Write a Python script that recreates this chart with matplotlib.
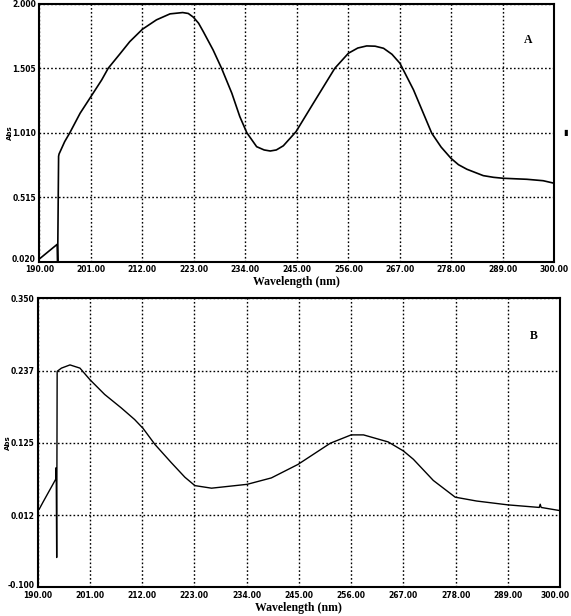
import numpy as np
import matplotlib
matplotlib.use("Agg")
import matplotlib.pyplot as plt
from matplotlib.transforms import ScaledTranslation

# spectrum A
wl_a = [190.1, 193.8, 193.9, 194.1, 194.2, 195.4, 196.5, 198.7, 201.0, 203.3,
        204.7, 207.2, 209.3, 212.0, 215.0, 217.9, 220.6, 221.8, 222.9, 224.0,
        225.0, 227.1, 228.9, 231.1, 232.8, 234.3, 236.4, 238.0, 239.3, 240.6,
        242.1, 244.8, 248.5, 253.1, 256.0, 258.0, 259.9, 261.7, 263.5, 265.3,
        267.0, 269.9, 273.8, 275.8, 277.9, 279.5, 281.3, 284.8, 287.0, 289.0,
        291.5, 294.1, 297.6, 300.0]
abs_a = [0.045, 0.154, 0.020, 0.830, 0.847, 0.942, 1.010, 1.160, 1.287, 1.415,
         1.505, 1.615, 1.709, 1.804, 1.876, 1.922, 1.932, 1.925, 1.896, 1.850,
         1.786, 1.645, 1.505, 1.313, 1.134, 1.010, 0.903, 0.878, 0.870, 0.878,
         0.910, 1.018, 1.236, 1.505, 1.620, 1.660, 1.676, 1.674, 1.658, 1.612,
         1.543, 1.339, 1.006, 0.900, 0.814, 0.765, 0.730, 0.681, 0.668, 0.661,
         0.657, 0.653, 0.642, 0.622]

# spectrum B
wl_b = [190.3, 191.1, 193.8, 193.9, 194.0, 194.1, 195.0, 196.8, 198.9, 201.0,
        204.1, 207.6, 210.4, 212.2, 214.7, 218.1, 221.0, 223.1, 226.6, 234.1,
        239.2, 244.8, 251.6, 256.0, 258.6, 263.8, 267.0, 269.1, 273.3, 277.9,
        282.4, 289.0, 295.6, 295.8, 296.0, 300.0]
abs_b = [0.021, 0.032, 0.068, 0.086, -0.054, 0.236, 0.241, 0.246, 0.241, 0.223,
         0.200, 0.179, 0.161, 0.147, 0.122, 0.094, 0.071, 0.058, 0.054, 0.060,
         0.070, 0.091, 0.124, 0.137, 0.137, 0.126, 0.112, 0.099, 0.066, 0.040,
         0.034, 0.028, 0.024, 0.029, 0.024, 0.019]

xticks = [190, 201, 212, 223, 234, 245, 256, 267, 278, 289, 300]
yticks_a = [0.020, 0.515, 1.010, 1.505, 2.000]
yticks_b = [-0.100, 0.012, 0.125, 0.237, 0.350]

fig = plt.figure(figsize=(5.71, 6.16), dpi=100)
ax_a = fig.add_axes([0.069, 0.575, 0.902, 0.419])
ax_b = fig.add_axes([0.066, 0.047, 0.915, 0.469])


def style(ax, yticks, letter, lx, ly):
    ax.set_xlim(190, 300)
    ax.set_ylim(yticks[0], yticks[-1])
    ax.set_xticks(xticks)
    ax.set_xticklabels(["%.2f" % t for t in xticks])
    ax.set_yticks(yticks)
    ax.set_yticklabels(["%.3f" % t for t in yticks])
    ax.tick_params(length=0, labelsize=5.5, pad=2.5)
    for lab in ax.get_xticklabels() + ax.get_yticklabels():
        lab.set_fontweight("bold")
    # lowest y label sits a little higher, like the instrument print
    low = ax.get_yticklabels()[0]
    low.set_transform(low.get_transform() + ScaledTranslation(0, 3 / 100, fig.dpi_scale_trans))
    ax.grid(True, color="black", linestyle=(0, (1.2, 1.6)), linewidth=1.0)
    for sp in ax.spines.values():
        sp.set_linewidth(1.5)
    ax.set_xlabel("Wavelength (nm)", family="Liberation Serif", fontweight="bold",
                  fontsize=8.5, labelpad=1.5)
    ax.set_ylabel("Abs", fontsize=5, fontweight="bold")
    ax.yaxis.set_label_coords(-0.052, 0.5)
    ax.text(lx, ly, letter, transform=ax.transAxes, family="Liberation Serif",
            fontweight="bold", fontsize=8.5, ha="center", va="center")


ax_a.plot(wl_a, abs_a, color="black", linewidth=1.2)
style(ax_a, yticks_a, "A", 0.949, 0.860)
ax_a.text(1.022, 0.50, "\u25ae", transform=ax_a.transAxes, fontsize=6,
          ha="center", va="center", clip_on=False)

ax_b.plot(wl_b, abs_b, color="black", linewidth=1.0)
style(ax_b, yticks_b, "B", 0.950, 0.870)
# keep the last x label inside the figure
last = ax_b.get_xticklabels()[-1]
last.set_transform(last.get_transform() + ScaledTranslation(-5 / 100, 0, fig.dpi_scale_trans))

fig.savefig("out.png", dpi=100)
